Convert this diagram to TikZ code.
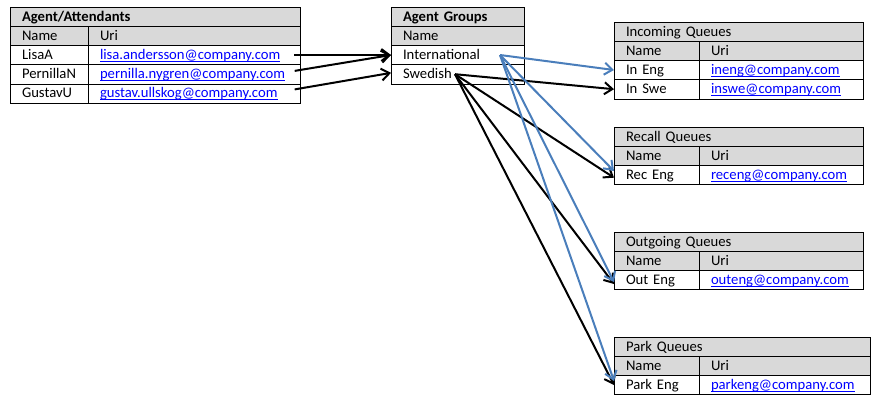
\documentclass[tikz,border=0pt]{standalone}
\usepackage{fontspec}
\setmainfont{Carlito}
\usetikzlibrary{positioning,arrows.meta}
\definecolor{headgray}{HTML}{D9D9D9}
\definecolor{linkblue}{HTML}{0000FF}
\definecolor{arrowblue}{HTML}{4A7EBB}
\newcommand{\maillink}[1]{{\color{linkblue}\setbox0=\hbox{#1}\rlap{\rule[-2pt]{\wd0}{0.75pt}}\box0}}

\begin{document}
\begin{tikzpicture}[
		x=0.75pt,y=-0.75pt,
		>={Straight Barb[length=6pt,width=9pt]},
		every node/.append style={
			font=\fontsize{11}{13}\selectfont,
		},
		cell/.style={draw=black,outer sep=0pt,inner xsep=9pt,inner ysep=0pt,
			minimum height=14.4pt,text height=9pt,text depth=2.4pt,align=left},
		head/.style={cell,fill=headgray},
		boldhead/.style={head,font=\fontsize{11}{13}\selectfont\bfseries},
		agcol/.style={text width=40.5pt},
		agmail/.style={text width=141pt},
		qcol/.style={text width=45.75pt},
		qmail/.style={text width=105pt},
		link/.style={line width=1.5pt,->},
		bluelink/.style={link,draw=arrowblue},
	]
	\useasboundingbox (0,0) rectangle (888,405);
	% agents on the left
	\node[boldhead,text width=199.5pt,anchor=north west] (agents) at (10,7) {Agent/Attendants};
	\node[head,agcol] (agname) [below right=0pt and 0pt of agents.south west] {Name};
	\node[head,agmail] (aguri) [right=0pt of agname] {Uri};
	\node[cell,agcol] (lisa) [below=0pt of agname] {LisaA};
	\node[cell,agmail] (lisauri) [right=0pt of lisa] {\maillink{lisa.andersson@company.com}};
	\node[cell,agcol] (pernilla) [below=0pt of lisa] {PernillaN};
	\node[cell,agmail] (pernillauri) [right=0pt of pernilla] {\maillink{pernilla.nygren@company.com}};
	\node[cell,agcol] (gustav) [below=0pt of pernilla] {GustavU};
	\node[cell,agmail] (gustavuri) [right=0pt of gustav] {\maillink{gustav.ullskog@company.com}};
	% agent groups in the middle
	\node[boldhead,text width=81.75pt,anchor=north west] (groups) at (391,7) {Agent Groups};
	\node[head,text width=81.75pt] (grpname) [below=0pt of groups] {Name};
	\node[cell,text width=81.75pt] (intl) [below=0pt of grpname] {International};
	\node[cell,text width=81.75pt] (swedish) [below=0pt of intl] {Swedish};
	% queues on the right
	\node[head,text width=168.75pt,anchor=north west] (incoming) at (614,22) {Incoming Queues};
	\node[head,qcol] (inname) [below right=0pt and 0pt of incoming.south west] {Name};
	\node[head,qmail] (inuri) [right=0pt of inname] {Uri};
	\node[cell,qcol] (ineng) [below=0pt of inname] {In Eng};
	\node[cell,qmail] (inenguri) [right=0pt of ineng] {\maillink{ineng@company.com}};
	\node[cell,qcol] (inswe) [below=0pt of ineng] {In Swe};
	\node[cell,qmail] (inswuri) [right=0pt of inswe] {\maillink{inswe@company.com}};

	\node[head,text width=168.75pt,anchor=north west] (recall) at (614,127) {Recall Queues};
	\node[head,qcol] (recname) [below right=0pt and 0pt of recall.south west] {Name};
	\node[head,qmail] (recuri) [right=0pt of recname] {Uri};
	\node[cell,qcol] (receng) [below=0pt of recname] {Rec Eng};
	\node[cell,qmail] (recenguri) [right=0pt of receng] {\maillink{receng@company.com}};

	\node[head,text width=168.75pt,anchor=north west] (outgoing) at (614,232) {Outgoing Queues};
	\node[head,qcol] (outname) [below right=0pt and 0pt of outgoing.south west] {Name};
	\node[head,qmail] (outuri) [right=0pt of outname] {Uri};
	\node[cell,qcol] (outeng) [below=0pt of outname] {Out Eng};
	\node[cell,qmail] (outenguri) [right=0pt of outeng] {\maillink{outeng@company.com}};

	\node[head,text width=174pt,anchor=north west] (park) at (614,337) {Park Queues};
	\node[head,qcol] (parkname) [below right=0pt and 0pt of park.south west] {Name};
	\node[head,qmail,text width=110.25pt] (parkuri) [right=0pt of parkname] {Uri};
	\node[cell,qcol] (parkeng) [below=0pt of parkname] {Park Eng};
	\node[cell,qmail,text width=110.25pt] (parkenguri) [right=0pt of parkeng] {\maillink{parkeng@company.com}};
	% draw the connection lines
	\coordinate (intlout) at ([xshift=-18pt]intl.east);
	\coordinate (swedishout) at ([xshift=-51.75pt]swedish.east);
	\draw[link] ([xshift=-4.5pt]lisauri.east) -- (intl.west);
	\draw[link] ([shift={(-4pt,2.5pt)}]pernillauri.east) -- (intl.west);
	\draw[link] ([shift={(-4pt,3pt)}]gustavuri.east) -- ([yshift=1pt]swedish.west);
	\draw[link] (swedishout) -- (inswe.west);
	\draw[link] (swedishout) -- ([yshift=-2pt]receng.west);
	\draw[link] (swedishout) -- ([yshift=-3pt]outeng.west);
	\draw[link] (swedishout) -- (parkeng.west);
	\draw[bluelink] (intlout) -- (ineng.west);
	\draw[bluelink] (intlout) -- ([yshift=3pt]receng.west);
	\draw[bluelink] (intlout) -- ([yshift=-1.5pt]outeng.west);
	\draw[bluelink] (intlout) -- ([yshift=3pt]parkeng.west);
\end{tikzpicture}
\end{document}
